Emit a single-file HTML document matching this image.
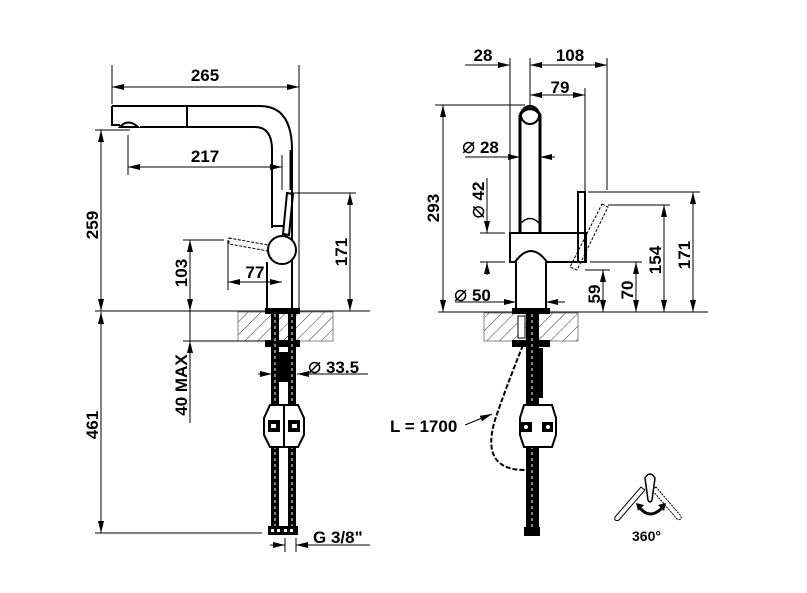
<!DOCTYPE html>
<html><head><meta charset="utf-8"><style>
html,body{margin:0;padding:0;background:#fff;}
svg{display:block;}
text{font-family:"Liberation Sans",Arial,sans-serif;font-weight:bold;font-size:17px;fill:#000;}
.d{font-size:22px;font-weight:normal;}
</style></head><body>
<svg width="807" height="593" viewBox="0 0 807 593" xmlns="http://www.w3.org/2000/svg">
<defs>
<marker id="a" markerWidth="12" markerHeight="6" refX="12" refY="3" orient="auto-start-reverse" markerUnits="userSpaceOnUse">
<path d="M0,0 L12,3 L0,6 z" fill="#000"/></marker>
<pattern id="h" width="9" height="9" patternUnits="userSpaceOnUse" patternTransform="rotate(45)">
<line x1="0" y1="0" x2="0" y2="9" stroke="#000" stroke-width="0.8"/></pattern>
</defs>
<g stroke="#000" stroke-width="1" fill="none">
<line x1="95" y1="311" x2="370" y2="311"/>
<rect x="238" y="312" width="95" height="29" fill="url(#h)" stroke="#555" stroke-width="0.7"/>
<line x1="112" y1="65" x2="112" y2="104"/>
<line x1="299" y1="65" x2="299" y2="308"/>
<line x1="112" y1="87" x2="299" y2="87" marker-start="url(#a)" marker-end="url(#a)"/>
<path d="M112,106 L260,106 Q292,106 292,150 L292,310" stroke-width="2"/>
<path d="M112,106 L112,125 L120,125" stroke-width="2"/>
<path d="M140,127 L255,127 Q272,127 272,150 L272,228" stroke-width="2"/>
<path d="M120,127 Q128,118 138,127 Z" stroke-width="2"/>
<line x1="187" y1="106" x2="187" y2="127" stroke-width="2"/>
<line x1="291" y1="150" x2="291" y2="190" stroke-width="3"/>
<path d="M287,193 L293,194 L289,235 L283,234 Z" stroke-width="2"/>
<line x1="272" y1="226" x2="284" y2="226" stroke-width="2"/>
<path d="M267,262 L267,308 M292,262 L292,308" stroke-width="2"/>
<circle cx="282" cy="250" r="14" stroke-width="2" fill="#fff"/>
<path d="M229,238 L268,245 L268,251 L229,244 Z" stroke-width="1" stroke-dasharray="3,1.5"/>
<line x1="95" y1="130" x2="130" y2="130"/>
<line x1="101" y1="130" x2="101" y2="311" marker-start="url(#a)" marker-end="url(#a)"/>
<line x1="128" y1="135" x2="128" y2="175"/>
<line x1="282" y1="155" x2="282" y2="190"/>
<line x1="128" y1="167" x2="282" y2="167" marker-start="url(#a)" marker-end="url(#a)"/>
<line x1="290" y1="193" x2="356" y2="193"/>
<line x1="350" y1="193" x2="350" y2="311" marker-start="url(#a)" marker-end="url(#a)"/>
<line x1="183" y1="240" x2="224" y2="240"/>
<line x1="190" y1="240" x2="190" y2="311" marker-start="url(#a)" marker-end="url(#a)"/>
<line x1="228" y1="240" x2="228" y2="290"/>
<line x1="228" y1="282" x2="282" y2="282" marker-start="url(#a)" marker-end="url(#a)"/>
<line x1="183" y1="341" x2="265" y2="341"/>
<line x1="190" y1="311" x2="190" y2="423"/>
<line x1="190" y1="360" x2="190" y2="341" marker-end="url(#a)"/>
<line x1="95" y1="533" x2="262" y2="533"/>
<line x1="101" y1="312" x2="101" y2="533" marker-start="url(#a)" marker-end="url(#a)"/>
<line x1="258" y1="374" x2="272" y2="374" marker-end="url(#a)"/>
<line x1="310" y1="374" x2="297" y2="374" marker-end="url(#a)"/>
<line x1="297" y1="374" x2="368" y2="374"/>
<line x1="285" y1="538" x2="285" y2="552"/><line x1="296" y1="538" x2="296" y2="552"/>
<line x1="270" y1="545" x2="285" y2="545" marker-end="url(#a)"/>
<line x1="311" y1="545" x2="296" y2="545" marker-end="url(#a)"/>
<line x1="296" y1="545" x2="370" y2="545"/>
</g>
<g fill="#000">
<rect x="265" y="308" width="35" height="6"/>
<rect x="265" y="340" width="35" height="7"/>
<rect x="271" y="314" width="8" height="214"/>
<rect x="288" y="314" width="8" height="214"/>
<rect x="279" y="352" width="9" height="30"/>
</g>
<g stroke="#fff" stroke-width="1" stroke-dasharray="3,3">
<line x1="275" y1="314" x2="275" y2="528"/><line x1="292" y1="314" x2="292" y2="528"/>
</g>
<path d="M270,405 L298,405 L304,418 L304,435 L298,447 L270,447 L264,435 L264,418 Z" fill="#fff" stroke="#000" stroke-width="2"/>
<line x1="284" y1="405" x2="284" y2="447" stroke="#000" stroke-width="2"/>
<rect x="268" y="420" width="12" height="12" fill="#000"/><rect x="288" y="420" width="12" height="12" fill="#000"/>
<rect x="271" y="424" width="5" height="4" fill="#fff"/><rect x="292" y="424" width="5" height="4" fill="#fff"/>
<rect x="268" y="526" width="30" height="9" fill="#000"/>
<g fill="#fff"><rect x="271" y="529" width="3" height="3"/><rect x="277" y="529" width="3" height="3"/><rect x="284" y="529" width="3" height="3"/><rect x="290" y="529" width="3" height="3"/></g>

<g stroke="#000" stroke-width="1" fill="none">
<line x1="438" y1="312" x2="708" y2="312"/>
<rect x="484" y="313" width="94" height="28" fill="url(#h)" stroke="#555" stroke-width="0.7"/>
<path d="M520,115 A11,11 0 0 1 540,115 L540,233 M520,115 L520,233" stroke-width="3"/>
<circle cx="530" cy="115" r="9" stroke-width="2"/>
<path d="M521,223 Q530,214 539,223" stroke-width="1.5"/>
<path d="M510,233 L586,233 L586,262 L547,262 Q531,240 515,262 L510,262 Z" stroke-width="2" fill="#fff"/>
<path d="M516,262 L516,308 M546,262 L546,308" stroke-width="2"/>
<rect x="578" y="192" width="7" height="70" stroke-width="2"/>
<path d="M602,204 L608,207 L577,270 L570,267 Z" stroke-dasharray="3,1.5"/>
<line x1="510" y1="58" x2="510" y2="233"/>
<line x1="530" y1="58" x2="530" y2="106"/>
<line x1="607" y1="58" x2="607" y2="190"/>
<line x1="585" y1="88" x2="585" y2="192"/>
<line x1="465" y1="65" x2="510" y2="65" marker-end="url(#a)"/>
<line x1="530" y1="65" x2="607" y2="65" marker-start="url(#a)" marker-end="url(#a)"/>
<line x1="530" y1="95" x2="585" y2="95" marker-start="url(#a)" marker-end="url(#a)"/>
<line x1="435" y1="105" x2="525" y2="105"/>
<line x1="443" y1="105" x2="443" y2="312" marker-start="url(#a)" marker-end="url(#a)"/>
<line x1="465" y1="157" x2="520" y2="157" marker-end="url(#a)"/>
<line x1="555" y1="157" x2="540" y2="157" marker-end="url(#a)"/>
<line x1="480" y1="233" x2="505" y2="233"/><line x1="480" y1="262" x2="505" y2="262"/>
<line x1="487" y1="178" x2="487" y2="233" marker-end="url(#a)"/>
<line x1="487" y1="275" x2="487" y2="262" marker-end="url(#a)"/>
<line x1="455" y1="302" x2="516" y2="302" marker-end="url(#a)"/>
<line x1="565" y1="302" x2="546" y2="302" marker-end="url(#a)"/>
<line x1="588" y1="192" x2="700" y2="192"/>
<line x1="693" y1="192" x2="693" y2="312" marker-start="url(#a)" marker-end="url(#a)"/>
<line x1="608" y1="205" x2="670" y2="205"/>
<line x1="664" y1="205" x2="664" y2="312" marker-start="url(#a)" marker-end="url(#a)"/>
<line x1="590" y1="262" x2="642" y2="262"/>
<line x1="636" y1="262" x2="636" y2="312" marker-start="url(#a)" marker-end="url(#a)"/>
<line x1="585" y1="270" x2="610" y2="270"/>
<line x1="603" y1="270" x2="603" y2="312" marker-start="url(#a)" marker-end="url(#a)"/>
<path d="M523,345 Q505,390 495,420 Q480,470 525,470" stroke-width="2" stroke-dasharray="5,2"/>
<line x1="465" y1="425" x2="492" y2="414" marker-end="url(#a)"/>
</g>
<g fill="#000">
<rect x="512" y="308" width="38" height="6"/>
<rect x="512" y="340" width="38" height="7"/>
<rect x="526" y="314" width="13" height="214"/>
<rect x="539" y="348" width="4" height="50"/>
</g>
<line x1="532" y1="314" x2="532" y2="528" stroke="#fff" stroke-dasharray="3,3"/>
<rect x="518" y="316" width="7" height="22" fill="#fff" stroke="#000"/>
<path d="M524,405 L552,405 L556,418 L556,435 L552,447 L524,447 L520,435 L520,418 Z" fill="#fff" stroke="#000" stroke-width="2"/>
<rect x="521" y="422" width="11" height="10" fill="#000"/><rect x="542" y="422" width="11" height="10" fill="#000"/>
<circle cx="526" cy="427" r="2" fill="#fff"/><circle cx="548" cy="427" r="2" fill="#fff"/>
<rect x="524" y="527" width="16" height="9" fill="#000"/>
<g stroke="#000" fill="#fff" stroke-width="1">
<path d="M641,487 L645,490 L619,520 Q614,522 615,517 Z"/>
<path d="M656,487 L652,490 L677,519 Q682,521 681,516 Z" stroke-dasharray="2,1"/>
<path d="M645,478 Q650,470 655,478 L652,500 Q650,504 648,500 Z" stroke-width="1.5"/>
<path d="M640,508 Q650,520 662,508" fill="none" stroke-width="3"/>
</g>
<path d="M636,503 L644,505 L638,511 Z" fill="#000"/>
<path d="M666,503 L658,505 L664,511 Z" fill="#000"/>

<text x="205" y="81" text-anchor="middle">265</text>
<text x="205" y="162" text-anchor="middle">217</text>
<text x="255" y="278" text-anchor="middle">77</text>
<text transform="translate(98,225) rotate(-90)" text-anchor="middle">259</text>
<text transform="translate(187,273) rotate(-90)" text-anchor="middle">103</text>
<text transform="translate(347,252) rotate(-90)" text-anchor="middle">171</text>
<text transform="translate(187,385) rotate(-90)" text-anchor="middle">40 MAX</text>
<text transform="translate(98,425) rotate(-90)" text-anchor="middle">461</text>
<text x="308" y="373"><tspan class="d">⌀</tspan> 33.5</text>
<text x="313" y="543">G 3/8"</text>
<text x="483" y="61" text-anchor="middle">28</text>
<text x="570" y="61" text-anchor="middle">108</text>
<text x="560" y="93" text-anchor="middle">79</text>
<text transform="translate(439,208) rotate(-90)" text-anchor="middle">293</text>
<text x="462" y="153"><tspan class="d">⌀</tspan> 28</text>
<text transform="translate(484,200) rotate(-90)" text-anchor="middle"><tspan class="d">⌀</tspan> 42</text>
<text x="454" y="301"><tspan class="d">⌀</tspan> 50</text>
<text transform="translate(600,294) rotate(-90)" text-anchor="middle">59</text>
<text transform="translate(633,290) rotate(-90)" text-anchor="middle">70</text>
<text transform="translate(661,260) rotate(-90)" text-anchor="middle">154</text>
<text transform="translate(690,255) rotate(-90)" text-anchor="middle">171</text>
<text x="390" y="432">L = 1700</text>
<text x="632" y="541" style="font-size:14px">360°</text>
</svg>
</body></html>
